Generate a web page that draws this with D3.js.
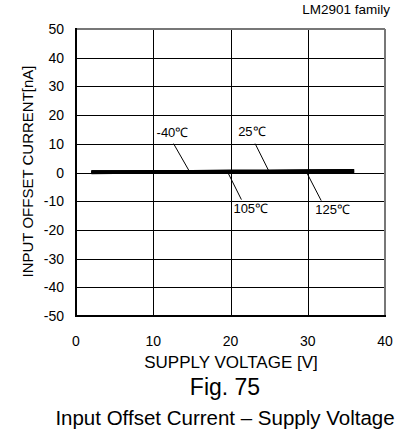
<!DOCTYPE html>
<html>
<head>
<meta charset="utf-8">
<script src="https://cdn.jsdelivr.net/npm/d3@7"></script>
<style>
  body { margin: 0; background: #fff; }
  text { font-family: "Liberation Sans", Arial, sans-serif; fill: #000; }
</style>
</head>
<body>
<div id="chart"></div>
<script>
// supply voltage [V]
var voltage = [2, 5, 10, 15, 20, 25, 30, 36];
// input offset current [nA] per temperature
var curM40  = [0.1, 0.1, 0.2, 0.2, 0.3, 0.3, 0.4, 0.5];
var cur25   = [0.2, 0.2, 0.3, 0.3, 0.4, 0.4, 0.5, 0.6];
var cur105  = [0.1, 0.1, 0.1, 0.2, 0.2, 0.3, 0.3, 0.4];
var cur125  = [0.0, 0.1, 0.1, 0.1, 0.2, 0.2, 0.3, 0.4];
var xTicks  = [0, 10, 20, 30, 40];
var yTicks  = [-50, -40, -30, -20, -10, 0, 10, 20, 30, 40, 50];
// temperature labels: text, point on curve (V), leader end and text offsets
var labels  = [
  { text: "-40\u2103", at: 14.7, dx: -16, dy: -28, tx: -33, ty: -35 },
  { text: "25\u2103",  at: 25.0, dx: -14, dy: -28, tx: -31, ty: -36 },
  { text: "105\u2103", at: 19.6, dx: 14,  dy: 28,  tx: 6,   ty: 41 },
  { text: "125\u2103", at: 29.8, dx: 15,  dy: 29,  tx: 9,   ty: 42 }
];

var width  = 405, height = 429;
var margin = { left: 76, right: 20, top: 29, bottom: 113 };

var svg = d3.select("#chart").append("svg")
  .attr("width", width).attr("height", height);

var x = d3.scaleLinear().domain([0, 40]).range([margin.left, width - margin.right]);
var y = d3.scaleLinear().domain([-50, 50]).range([height - margin.bottom, margin.top]);

// grid
svg.append("g").selectAll("line").data(xTicks.slice(1, -1)).enter().append("line")
  .attr("x1", function (d) { return Math.round(x(d)) + 0.5; })
  .attr("x2", function (d) { return Math.round(x(d)) + 0.5; })
  .attr("y1", y(50)).attr("y2", y(-50))
  .attr("stroke", "#000").attr("stroke-width", 1);
svg.append("g").selectAll("line").data(yTicks.slice(1, -1)).enter().append("line")
  .attr("x1", x(0)).attr("x2", x(40))
  .attr("y1", function (d) { return Math.round(y(d)) + 0.5; })
  .attr("y2", function (d) { return Math.round(y(d)) + 0.5; })
  .attr("stroke", "#000").attr("stroke-width", 1);

// frame
svg.append("line").attr("x1", x(0)).attr("x2", x(40)).attr("y1", y(50)).attr("y2", y(50))
  .attr("stroke", "#777").attr("stroke-width", 2);
svg.append("line").attr("x1", x(40)).attr("x2", x(40)).attr("y1", y(50)).attr("y2", y(-50))
  .attr("stroke", "#777").attr("stroke-width", 2);
svg.append("line").attr("x1", x(0)).attr("x2", x(0)).attr("y1", y(50) - 1).attr("y2", y(-50) + 1)
  .attr("stroke", "#000").attr("stroke-width", 2);
svg.append("line").attr("x1", x(0) - 1).attr("x2", x(40) + 1).attr("y1", y(-50)).attr("y2", y(-50))
  .attr("stroke", "#000").attr("stroke-width", 2);

// curves
var line = d3.line()
  .x(function (d, i) { return x(voltage[i]); })
  .y(function (d) { return y(d); });
[curM40, cur25, cur105, cur125].forEach(function (s) {
  svg.append("path").datum(s).attr("d", line)
    .attr("fill", "none").attr("stroke", "#000").attr("stroke-width", 3.5);
});

// tick labels
svg.append("g").selectAll("text").data(yTicks).enter().append("text")
  .attr("x", 64).attr("y", function (d) { return y(d) + 5; })
  .attr("text-anchor", "end").attr("font-size", 14)
  .text(function (d) { return d; });
svg.append("g").selectAll("text").data(xTicks).enter().append("text")
  .attr("x", function (d) { return x(d); }).attr("y", 346)
  .attr("text-anchor", "middle").attr("font-size", 14)
  .text(function (d) { return d; });

// temperature labels with leaders
var g = svg.append("g");
labels.forEach(function (l) {
  var px = x(l.at), py = y(0.3);
  g.append("line").attr("x1", px).attr("y1", py).attr("x2", px + l.dx).attr("y2", py + l.dy)
    .attr("stroke", "#000").attr("stroke-width", 1);
  g.append("text").attr("x", px + l.tx).attr("y", py + l.ty)
    .attr("font-size", 13).text(l.text);
});

// titles
svg.append("text").attr("x", 390).attr("y", 14).attr("text-anchor", "end")
  .attr("font-size", 13.5).text("LM2901 family");
svg.append("text").attr("transform", "translate(33,171.5) rotate(-90)")
  .attr("text-anchor", "middle").attr("font-size", 15).text("INPUT OFFSET CURRENT[nA]");
svg.append("text").attr("x", 231).attr("y", 368).attr("text-anchor", "middle")
  .attr("font-size", 17).text("SUPPLY VOLTAGE [V]");
svg.append("text").attr("x", 225).attr("y", 395).attr("text-anchor", "middle")
  .attr("font-size", 23).text("Fig. 75");
svg.append("text").attr("x", 225).attr("y", 425).attr("text-anchor", "middle")
  .attr("font-size", 20.5).text("Input Offset Current \u2013 Supply Voltage");
</script>
</body>
</html>
